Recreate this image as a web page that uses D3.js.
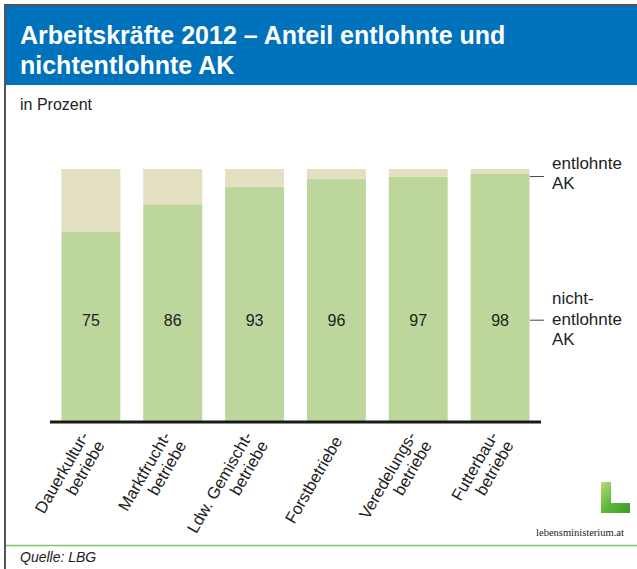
<!DOCTYPE html>
<html>
<meta charset="utf-8">
<title>Arbeitskräfte 2012</title>
<style>
html, body {
    margin: 0;
    padding: 0;
    background: #fff;
}
svg text {
    font-family: "Liberation Sans", Arial, sans-serif;
}
</style>
<body>
<div id="chart"></div>
<script src="https://d3js.org/d3.v7.min.js"></script>
<script>
// data (percent)
var categories = ["Dauerkultur-\nbetriebe", "Marktfrucht-\nbetriebe", "Ldw. Gemischt-\nbetriebe",
                  "Forstbetriebe", "Veredelungs-\nbetriebe", "Futterbau-\nbetriebe"];
var nichtEntlohnt = [75, 86, 93, 96, 97, 98];
var entlohnt = nichtEntlohnt.map(function(v) { return 100 - v; });
var seriesNames = ["nicht-\nentlohnte\nAK", "entlohnte\nAK"];
var titleLines = ["Arbeitskräfte 2012 – Anteil entlohnte und", "nichtentlohnte AK"];

var W = 637, H = 569;
var colGreen = "#bdd69b", colBeige = "#e3dfc1", colBlue = "#0071bb";

var svg = d3.select("#chart").append("svg")
    .attr("width", W)
    .attr("height", H);

// frame + header
svg.append("rect").attr("x", 4).attr("y", 4).attr("width", W).attr("height", 2).attr("fill", "#555");
svg.append("rect").attr("x", 4).attr("y", 4).attr("width", 2).attr("height", H).attr("fill", "#555");
svg.append("rect").attr("x", 6).attr("y", 6).attr("width", W - 6).attr("height", 79).attr("fill", colBlue);

svg.append("g").selectAll("text")
    .data(titleLines)
    .enter().append("text")
    .attr("x", 20)
    .attr("y", function(d, i) { return 44 + i * 30; })
    .attr("fill", "#fff")
    .attr("font-weight", "bold")
    .attr("font-size", 25)
    .text(function(d) { return d; });

svg.append("text")
    .attr("x", 20).attr("y", 110)
    .attr("font-size", 16).attr("fill", "#222")
    .text("in Prozent");

var x = d3.scaleBand()
    .domain(categories)
    .range([50, 541])
    .paddingInner(0.28)
    .paddingOuter(0.14);

var y = d3.scaleLinear()
    .domain([0, 100])
    .range([421, 169]);

var rows = categories.map(function(c, i) {
    return { cat: c, nicht: nichtEntlohnt[i], ent: entlohnt[i] };
});
var stack = d3.stack().keys(["nicht", "ent"])(rows);

svg.append("g").selectAll("g")
    .data(stack)
    .enter().append("g")
    .attr("fill", function(d, i) { return i == 0 ? colGreen : colBeige; })
    .selectAll("rect")
    .data(function(d) { return d; })
    .enter().append("rect")
    .attr("x", function(d) { return x(d.data.cat); })
    .attr("y", function(d) { return y(d[1]); })
    .attr("width", x.bandwidth())
    .attr("height", function(d) { return y(d[0]) - y(d[1]); });

// value labels
svg.append("g").selectAll("text")
    .data(rows)
    .enter().append("text")
    .attr("x", function(d) { return x(d.cat) + x.bandwidth() / 2; })
    .attr("y", y(40))
    .attr("dy", ".35em")
    .attr("text-anchor", "middle")
    .attr("font-size", 16)
    .attr("fill", "#222")
    .text(function(d) { return d.nicht; });

// baseline
svg.append("line")
    .attr("x1", 50).attr("x2", 541)
    .attr("y1", y(0) + 1).attr("y2", y(0) + 1)
    .attr("stroke", "#1a1a1a").attr("stroke-width", 3);

// rotated category labels
var lab = svg.append("g").selectAll("g")
    .data(categories)
    .enter().append("g")
    .attr("transform", function(d) {
        return "translate(" + (x(d) + x.bandwidth() / 2 + 2) + "," + 438 + ") rotate(-60)";
    });
lab.each(function(d) {
    var lines = d.split("\n");
    d3.select(this).selectAll("text")
        .data(lines)
        .enter().append("text")
        .attr("text-anchor", "end")
        .attr("font-size", 16.5)
        .attr("fill", "#222")
        .attr("y", function(l, i) { return (i - (lines.length - 1) / 2) * 18 + 5; })
        .text(function(l) { return l; });
});

// legend at right
var legendVals = [40, 97];
var legendY = [[298, 319, 339], [163, 183]];
seriesNames.forEach(function(s, k) {
    var yy = y(legendVals[k]);
    svg.append("line")
        .attr("x1", 530).attr("x2", 544)
        .attr("y1", yy).attr("y2", yy)
        .attr("stroke", "#444").attr("stroke-width", 1);
    svg.append("g").selectAll("text")
        .data(s.split("\n"))
        .enter().append("text")
        .attr("x", 552)
        .attr("y", function(l, i) { return legendY[k][i]; })
        .attr("dy", ".35em")
        .attr("font-size", 17)
        .attr("fill", "#222")
        .text(function(l) { return l; });
});

// logo
var grad = svg.append("defs").append("linearGradient")
    .attr("id", "leaf").attr("x1", 0).attr("y1", 0).attr("x2", 1).attr("y2", 1);
grad.append("stop").attr("offset", "0%").attr("stop-color", "#b8dd7a");
grad.append("stop").attr("offset", "50%").attr("stop-color", "#5db83a");
grad.append("stop").attr("offset", "100%").attr("stop-color", "#3c9a2a");
svg.append("path")
    .attr("d", "M601,482 L611,482 L611,503 L630,503 L630,513 L601,513 Z")
    .attr("fill", "url(#leaf)");
svg.append("text")
    .attr("x", 580).attr("y", 536)
    .attr("text-anchor", "middle")
    .style("font-family", "'Liberation Serif', serif")
    .attr("font-size", 10.5)
    .attr("fill", "#222")
    .text("lebensministerium.at");

// footer
svg.append("line")
    .attr("x1", 6).attr("x2", W)
    .attr("y1", 545.5).attr("y2", 545.5)
    .attr("stroke", "#7cc46a").attr("stroke-width", 1.5);
svg.append("text")
    .attr("x", 20).attr("y", 562)
    .attr("font-size", 14)
    .attr("font-style", "italic")
    .attr("fill", "#222")
    .text("Quelle: LBG");
</script>
</body>
</html>
